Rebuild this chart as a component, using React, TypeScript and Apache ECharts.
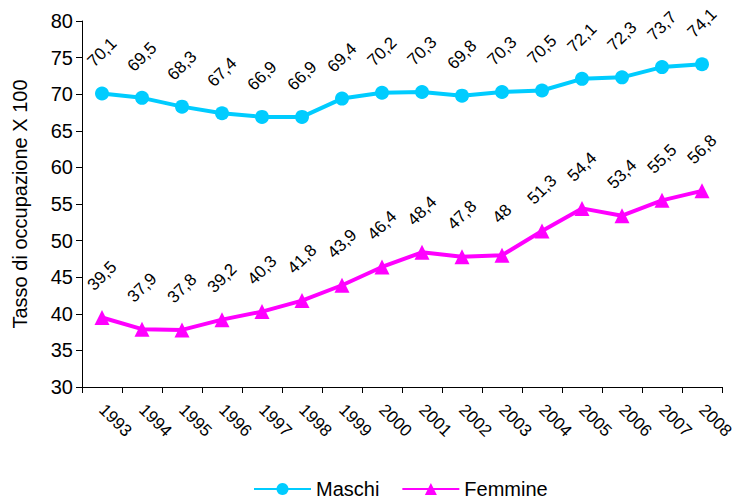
import React, { useEffect, useRef } from "react";
import * as echarts from "echarts";

const years = ["1993","1994","1995","1996","1997","1998","1999","2000","2001","2002","2003","2004","2005","2006","2007","2008"];
const maschi = [70.1,69.5,68.3,67.4,66.9,66.9,69.4,70.2,70.3,69.8,70.3,70.5,72.1,72.3,73.7,74.1];
const femmine = [39.5,37.9,37.8,39.2,40.3,41.8,43.9,46.4,48.4,47.8,48,51.3,54.4,53.4,55.5,56.8];

const fmt = (p: any) => String(p.value).replace(".", ",");

export default function App() {
  const ref = useRef<HTMLDivElement>(null);
  useEffect(() => {
    const chart = echarts.init(ref.current!, null, { renderer: "svg" });
    const font = "Arial, 'Liberation Sans', sans-serif";
    const label = {
      show: true,
      position: "top",
      distance: 34,
      rotate: 45,
      align: "center",
      verticalAlign: "middle",
      formatter: fmt,
      color: "#000",
      fontSize: 17,
      fontFamily: font,
    };
    chart.setOption({
      animation: false,
      backgroundColor: "#fff",
      textStyle: { fontFamily: font },
      grid: { left: 82, right: 22, top: 21, bottom: 114, containLabel: false, outerBoundsMode: "none" },
      legend: {
        bottom: -3,
        left: 248,
        itemWidth: 57,
        itemHeight: 15,
        itemGap: 22,
        textStyle: { fontSize: 20, color: "#000", fontFamily: font },
        data: ["Maschi", "Femmine"],
      },
      xAxis: {
        type: "category",
        data: years,
        boundaryGap: true,
        axisLine: { lineStyle: { color: "#000", width: 1 } },
        axisTick: { show: true, length: 6, lineStyle: { color: "#000" } },
        axisLabel: { rotate: -45, fontSize: 17, color: "#000", margin: 20, fontFamily: font },
      },
      yAxis: {
        type: "value",
        min: 30,
        max: 80,
        interval: 5,
        name: "Tasso di occupazione X 100",
        nameLocation: "middle",
        nameRotate: 90,
        nameGap: 52,
        nameTextStyle: { fontSize: 20, color: "#000", fontFamily: font },
        splitLine: { show: false },
        axisLine: { show: true, lineStyle: { color: "#000", width: 1 } },
        axisTick: { show: true, length: 6, lineStyle: { color: "#000" } },
        axisLabel: { fontSize: 20, color: "#000", margin: 9, fontFamily: font },
      },
      series: [
        {
          name: "Maschi",
          type: "line",
          data: maschi,
          symbol: "circle",
          symbolSize: 14,
          lineStyle: { color: "#00CCFF", width: 4 },
          itemStyle: { color: "#00CCFF" },
          label,
        },
        {
          name: "Femmine",
          type: "line",
          data: femmine,
          symbol: "triangle",
          symbolSize: 15,
          lineStyle: { color: "#FF00FF", width: 4 },
          itemStyle: { color: "#FF00FF" },
          label,
        },
      ],
    });
    return () => chart.dispose();
  }, []);
  return <div ref={ref} style={{ width: 744, height: 501, position: "absolute", left: 0, top: 0 }} />;
}
